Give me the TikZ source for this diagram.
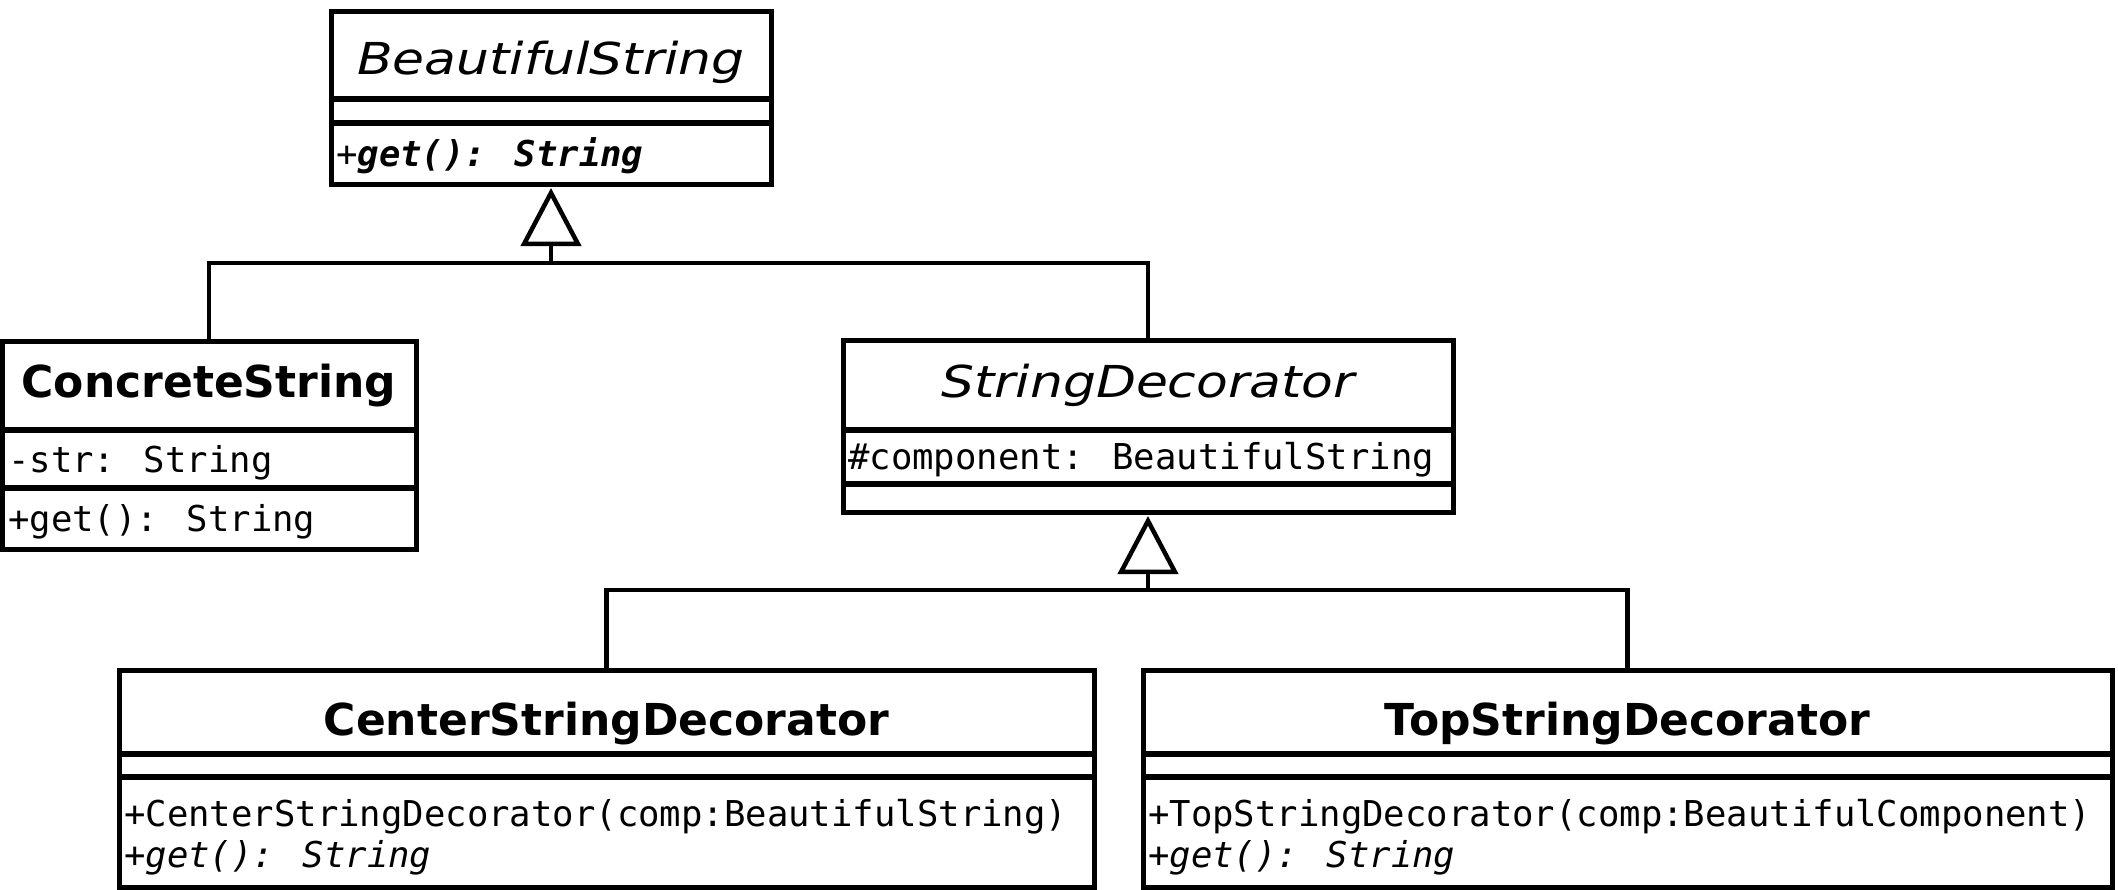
\documentclass[tikz,border=0pt]{standalone}
\usepackage{fontspec}
\setmainfont{DejaVu Sans}
\newfontfamily\namefont{DejaVu Sans}
\newfontfamily\absfont{DejaVu Sans}[FakeStretch=1.18]
\newfontfamily\codefont{DejaVu Sans Mono}
\usetikzlibrary{arrows.meta}
\begin{document}
\begin{tikzpicture}[x=1pt,y=1pt,
  cls/.style={draw=black, line width=5pt, fill=white, inner sep=0pt, outer sep=0pt, anchor=north west},
  sepline/.style={line width=5.5pt, black},
  conn/.style={line width=4.5pt, black},
  inh/.style={conn, -{Triangle[open, length=58pt, width=60pt]}},
  cname/.style={inner sep=0pt, anchor=base, font=\namefont\bfseries\fontsize{44}{44}\selectfont},
  aname/.style={inner sep=0pt, anchor=base, font=\absfont\itshape\fontsize{44}{44}\selectfont},
  member/.style={inner sep=0pt, anchor=base west, font=\codefont\fontsize{35.6}{36}\selectfont}]
\useasboundingbox (0,0) rectangle (2118,-889);
\fill[white] (0,0) rectangle (2118,-889);

% class boxes
\node[cls, minimum width=440pt, minimum height=173pt] (bs) at (331,-11) {};
\node[cls, minimum width=414pt, minimum height=208pt] (cs) at (2,-341) {};
\node[cls, minimum width=610pt, minimum height=172pt] (sd) at (843,-340) {};
\node[cls, minimum width=975pt, minimum height=217pt] (csd) at (119,-670) {};
\node[cls, minimum width=969pt, minimum height=217pt] (tsd) at (1143,-670) {};

% compartment separators
\draw[sepline] ([yshift=-88pt]bs.north west) -- ([yshift=-88pt]bs.north east);
\draw[sepline] ([yshift=-112pt]bs.north west) -- ([yshift=-112pt]bs.north east);
\draw[sepline] ([yshift=-89pt]cs.north west) -- ([yshift=-89pt]cs.north east);
\draw[sepline] ([yshift=-147pt]cs.north west) -- ([yshift=-147pt]cs.north east);
\draw[sepline] ([yshift=-90pt]sd.north west) -- ([yshift=-90pt]sd.north east);
\draw[sepline] ([yshift=-144pt]sd.north west) -- ([yshift=-144pt]sd.north east);
\draw[sepline] ([yshift=-84pt]csd.north west) -- ([yshift=-84pt]csd.north east);
\draw[sepline] ([yshift=-107pt]csd.north west) -- ([yshift=-107pt]csd.north east);
\draw[sepline] ([yshift=-84pt]tsd.north west) -- ([yshift=-84pt]tsd.north east);
\draw[sepline] ([yshift=-107pt]tsd.north west) -- ([yshift=-107pt]tsd.north east);

% names
\node[aname] (bsn) at (551,-74) {BeautifulString};
\node[cname] (csn) at (209,-397) {ConcreteString};
\node[aname] (sdn) at (1148,-397) {StringDecorator};
\node[cname] (csdn) at (606.5,-735) {CenterStringDecorator};
\node[cname] (tsdn) at (1627.5,-735) {TopStringDecorator};

% members
\node[member] (bsm) at (336,-166) {+\bfseries\itshape get(): String};
\node[member] (csa) at (8,-472) {-str: String};
\node[member] (csm) at (8,-531) {+get(): String};
\node[member] (sda) at (848,-469) {\#component: BeautifulString};
\node[member] (csdm1) at (124,-826) {+CenterStringDecorator(comp:BeautifulString)};
\node[member] (csdm2) at (124,-867) {+\itshape get(): String};
\node[member] (tsdm1) at (1148,-826) {+TopStringDecorator(comp:BeautifulComponent)};
\node[member] (tsdm2) at (1148,-867) {+\itshape get(): String};

% generalizations
\coordinate (j1) at (551,-263);
\coordinate (j2) at (1148,-590);
\draw[conn] (cs.north) |- (j1) -| (sd.north);
\draw[inh] (j1) -- ([yshift=-4pt]bs.south);
\draw[conn] (csd.north) |- (j2) -| (tsd.north);
\draw[inh] (j2) -- ([yshift=-4pt]sd.south);
\end{tikzpicture}
\end{document}
